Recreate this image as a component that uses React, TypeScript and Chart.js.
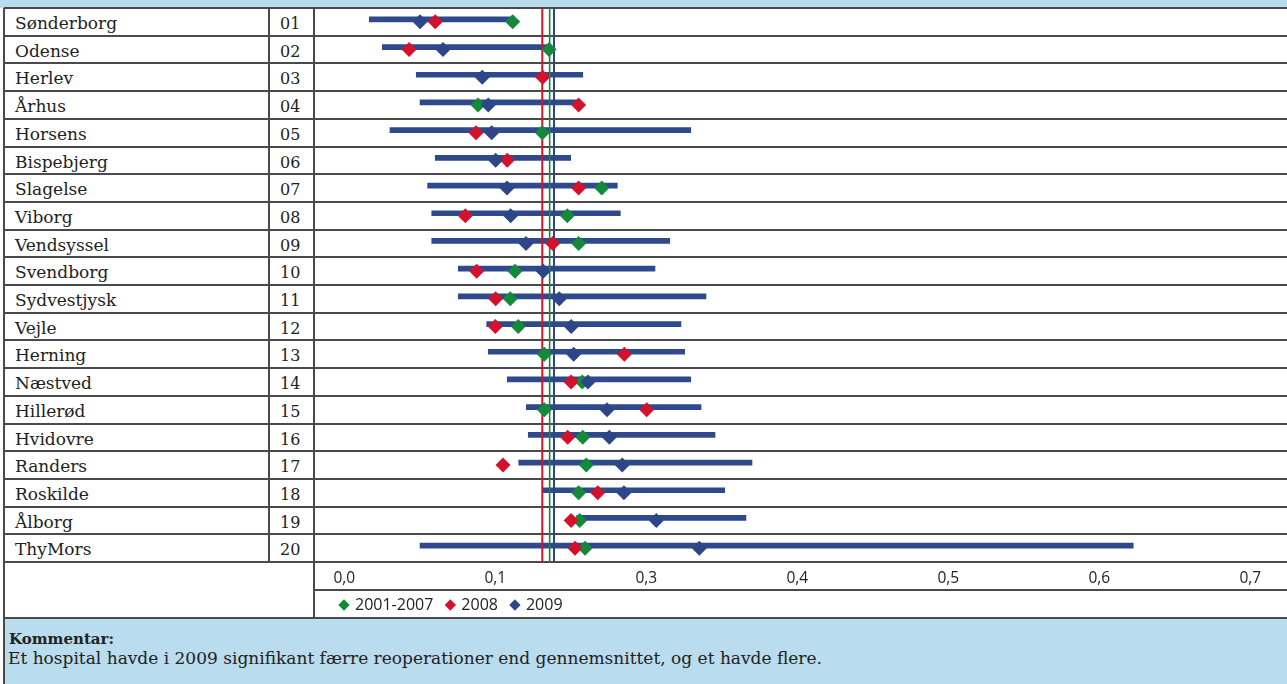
import React, { useEffect, useRef } from "react";
import { Chart, registerables } from "chart.js";

Chart.register(...registerables);

const hospitals = [
  "Sønderborg", "Odense", "Herlev", "Århus", "Horsens", "Bispebjerg", "Slagelse",
  "Viborg", "Vendsyssel", "Svendborg", "Sydvestjysk", "Vejle", "Herning", "Næstved",
  "Hillerød", "Hvidovre", "Randers", "Roskilde", "Ålborg", "ThyMors",
];
const hospitalNumbers = [
  "01", "02", "03", "04", "05", "06", "07", "08", "09", "10",
  "11", "12", "13", "14", "15", "16", "17", "18", "19", "20",
];
// 2009 confidence interval
const ciLow = [
  0.0207, 0.0315, 0.0596, 0.0627, 0.0378, 0.0753, 0.069, 0.0724, 0.0724, 0.0944,
  0.0944, 0.1179, 0.1192, 0.1349, 0.1507, 0.1523, 0.1444, 0.1647, 0.1924, 0.0627,
];
const ciHigh = [
  0.1394, 0.1695, 0.1974, 0.1924, 0.2868, 0.1874, 0.226, 0.2285, 0.2694, 0.2572,
  0.2994, 0.2787, 0.2818, 0.2868, 0.2953, 0.3069, 0.3375, 0.3149, 0.3325, 0.6531,
];
const values2001_2007: (number | null)[] = [
  0.1394, 0.1695, null, 0.1107, 0.1639, null, 0.2131, 0.1846, 0.194, 0.1413,
  0.1374, 0.144, 0.1656, 0.197, 0.1656, 0.1974, 0.2003, 0.194, 0.1949, 0.1993,
];
const values2008: (number | null)[] = [
  0.0753, 0.0536, 0.1642, 0.194, 0.109, 0.1349, 0.194, 0.1002, 0.1725, 0.1096,
  0.1253, 0.125, 0.2318, 0.1877, 0.2503, 0.1849, 0.1314, 0.2098, 0.1877, 0.191,
];
const values2009: (number | null)[] = [
  0.0627, 0.0817, 0.1142, 0.1192, 0.122, 0.1253, 0.1347, 0.1377, 0.1504, 0.1647,
  0.178, 0.1879, 0.1899, 0.2017, 0.2175, 0.2194, 0.2301, 0.2315, 0.2583, 0.2939,
];
const mean2001_2007 = 0.17;
const mean2008 = 0.1639;
const mean2009 = 0.1736;
const seriesLabels = ["2001-2007", "2008", "2009"];
const tickValues = [0, 0.125, 0.25, 0.375, 0.5, 0.625, 0.75];
const tickLabels = ["0,0", "0,1", "0,3", "0,4", "0,5", "0,6", "0,7"];
const commentTitle = "Kommentar:";
const commentText =
  "Et hospital havde i 2009 signifikant færre reoperationer end gennemsnittet, og et havde flere.";

const GREEN = "#14893a";
const RED = "#d4122b";
const BLUE = "#2c4688";
const BAR = "#2e4a8c";
const BAND = "#b9dcee";
const LINE = "#4a4a4a";

const ROW_TOP = 8;
const ROW_H = 27.7;
const PLOT_LEFT = 314;
const CANVAS_H = 622;

function points(vals: (number | null)[]) {
  const out: { x: number; y: string }[] = [];
  vals.forEach((v, i) => {
    if (v !== null) out.push({ x: v, y: hospitals[i] });
  });
  return out;
}

const legendPlacement = {
  id: "legendPlacement",
  afterLayout(chart: any) {
    const lg = chart.legend;
    if (!lg) return;
    const w = lg.width;
    const h = lg.height;
    lg.left = 13;
    lg.right = 13 + w;
    lg.top = 575;
    lg.bottom = 575 + h;
  },
};

function PlotChart() {
  const ref = useRef<HTMLCanvasElement | null>(null);
  useEffect(() => {
    if (!ref.current) return;
    const diamond = (label: string, vals: (number | null)[], color: string, order: number) => ({
      type: "scatter" as const,
      label,
      data: points(vals),
      backgroundColor: color,
      borderColor: color,
      borderWidth: 0,
      pointStyle: "rectRot",
      pointRadius: 7.5,
      pointHoverRadius: 7.5,
      order,
    });
    const meanLine = (m: number, color: string, width: number) => ({
      type: "line" as const,
      label: "mean",
      data: [
        { x: m, y: 0 },
        { x: m, y: 1 },
      ],
      yAxisID: "yMean",
      borderColor: color,
      borderWidth: width,
      pointRadius: 0,
      clip: false,
      order: 3,
    });
    const chart = new Chart(ref.current, {
      type: "bar",
      data: {
        labels: hospitals,
        datasets: [
          diamond(seriesLabels[0], values2001_2007, GREEN, 2),
          diamond(seriesLabels[1], values2008, RED, 1),
          diamond(seriesLabels[2], values2009, BLUE, 0),
          meanLine(mean2008, RED, 2),
          meanLine(mean2001_2007, GREEN, 1.6),
          meanLine(mean2009, BLUE, 2),
          {
            type: "bar" as const,
            label: "ci",
            data: ciLow.map((lo, i) => [lo, ciHigh[i]]),
            backgroundColor: BAR,
            borderWidth: 0,
            barThickness: 5,
            order: 4,
          },
        ] as any,
      },
      options: {
        indexAxis: "y",
        animation: false,
        responsive: true,
        maintainAspectRatio: false,
        layout: { padding: 0, autoPadding: false },
        scales: {
          x: {
            type: "linear",
            min: -0.02508,
            max: 0.78038,
            offset: false,
            grid: { display: false, drawTicks: false, tickLength: 0 },
            border: { display: false },
            afterBuildTicks: (scale: any) => {
              scale.ticks = tickValues.map((v) => ({ value: v }));
            },
            afterFit: (scale: any) => {
              scale.height = 28;
            },
            ticks: {
              autoSkip: false,
              maxRotation: 0,
              padding: 7,
              color: "#222",
              font: { family: "'Open Sans'", size: 15.5 },
              callback: (_v: any, i: number) => tickLabels[i],
            },
          },
          y: {
            type: "category",
            offset: true,
            display: false,
          },
          yMean: {
            type: "linear",
            axis: "y",
            min: 0,
            max: 1,
            offset: false,
            display: false,
          },
        },
        plugins: {
          tooltip: { enabled: false },
          legend: {
            display: true,
            position: "bottom",
            align: "start",
            labels: {
              usePointStyle: true,
              boxWidth: 6,
              boxHeight: 8,
              padding: 14,
              color: "#222",
              font: { family: "'Open Sans'", size: 16 },
              filter: (item: any) => seriesLabels.includes(item.text),
              sort: (a: any, b: any) => a.datasetIndex - b.datasetIndex,
            },
          },
        },
      } as any,
      plugins: [legendPlacement],
    });
    return () => chart.destroy();
  }, []);
  return <canvas ref={ref} />;
}

export default function App() {
  const hLines: number[] = [];
  for (let k = 0; k <= hospitals.length; k++) hLines.push(ROW_TOP + k * ROW_H);
  const rowsBottom = ROW_TOP + hospitals.length * ROW_H;
  const abs = (s: React.CSSProperties): React.CSSProperties => ({ position: "absolute", ...s });
  return (
    <div
      style={{
        position: "absolute",
        left: 0,
        top: 0,
        width: 1287,
        height: 684,
        overflow: "hidden",
        background: "#fff",
        fontFamily: "'DejaVu Serif', serif",
        color: "#222",
      }}
    >
      <div style={abs({ left: 0, top: 0, width: 1287, height: 8, background: BAND })} />
      {/* comment box */}
      <div style={abs({ left: 4, top: 618, width: 1283, height: 66, background: BAND })} />
      <div style={abs({ left: 9, top: 629, fontSize: 15, fontWeight: "bold", lineHeight: "20px" })}>
        {commentTitle}
      </div>
      <div style={abs({ left: 8, top: 648, fontSize: 17, lineHeight: "20px", whiteSpace: "nowrap" })}>
        {commentText}
      </div>
      {/* row texts */}
      {hospitals.map((h, i) => (
        <div
          key={h}
          style={abs({
            left: 15,
            top: ROW_TOP + i * ROW_H + 2,
            height: ROW_H,
            lineHeight: ROW_H + "px",
            fontSize: 17,
            whiteSpace: "nowrap",
          })}
        >
          {h}
        </div>
      ))}
      {hospitalNumbers.map((n, i) => (
        <div
          key={n}
          style={abs({
            left: 280,
            top: ROW_TOP + i * ROW_H + 2,
            height: ROW_H,
            lineHeight: ROW_H + "px",
            fontSize: 16,
          })}
        >
          {n}
        </div>
      ))}
      {/* table lines */}
      {hLines.map((y, k) => (
        <div key={k} style={abs({ left: 4, top: y - 1, width: 1283, height: 2, background: LINE })} />
      ))}
      <div style={abs({ left: PLOT_LEFT, top: 589, width: 1287 - PLOT_LEFT, height: 2, background: LINE })} />
      <div style={abs({ left: 4, top: 617, width: 1283, height: 2, background: LINE })} />
      <div style={abs({ left: 3, top: 8, width: 2, height: 676, background: LINE })} />
      <div style={abs({ left: 268, top: 8, width: 2, height: rowsBottom - 8, background: LINE })} />
      <div style={abs({ left: PLOT_LEFT - 1, top: 8, width: 2, height: 610, background: LINE })} />
      {/* chart */}
      <div style={abs({ left: PLOT_LEFT, top: ROW_TOP, width: 1287 - PLOT_LEFT, height: CANVAS_H })}>
        <PlotChart />
      </div>
    </div>
  );
}
